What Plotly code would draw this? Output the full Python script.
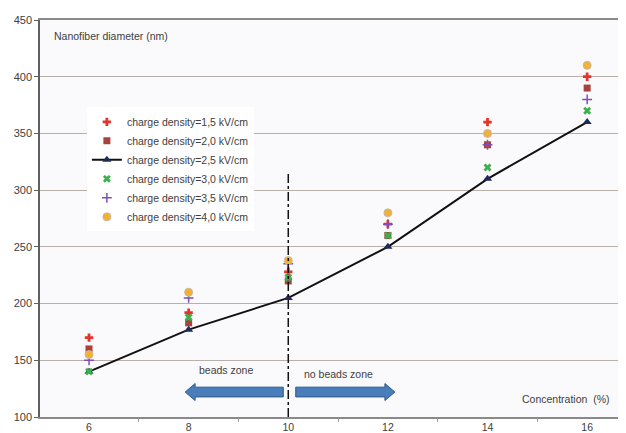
import plotly.graph_objects as go

concentration = [6, 8, 10, 12, 14, 16]
cd_15 = [170, 192, 228, 270, 360, 400]
cd_20 = [160, 183, 220, 260, 340, 390]
cd_25 = [140, 177, 205, 250, 310, 360]
cd_30 = [140, 188, 223, 260, 320, 370]
cd_35 = [150, 205, 235, 270, 340, 380]
cd_40 = [155, 210, 238, 280, 350, 410]

x_ticks = [6, 8, 10, 12, 14, 16]
y_ticks = [100, 150, 200, 250, 300, 350, 400, 450]

FONT = "Liberation Sans, Arial, sans-serif"
TXT = "#404040"

fig = go.Figure()

def mk(name, y, symbol, color, size=7, line=None):
    fig.add_trace(go.Scatter(
        x=concentration, y=y, name=name, mode="markers",
        marker=dict(symbol=symbol, color=color, size=size,
                    line=line or dict(width=0))))

mk("charge density=1,5 kV/cm", cd_15, "cross", "#e8332a", 7)
mk("charge density=2,0 kV/cm", cd_20, "square", "#a8423c", 7)
fig.add_trace(go.Scatter(
    x=concentration, y=cd_25, name="charge density=2,5 kV/cm",
    mode="lines+markers", line=dict(color="#111111", width=2),
    marker=dict(symbol="triangle-up", color="#1f2a5c", size=8)))
mk("charge density=3,0 kV/cm", cd_30, "x", "#3cb04c", 7)
mk("charge density=3,5 kV/cm", cd_35, "cross-thin-open", "#7d4fb8", 7,
   dict(width=1.5, color="#7d4fb8"))
mk("charge density=4,0 kV/cm", cd_40, "circle", "#f2b133", 8,
   dict(width=1, color="#c8b8a8"))

# vertical dash-dot separator at 10 %
boundary = 10
fig.add_shape(type="line", x0=boundary, x1=boundary, y0=100, y1=315,
              xref="x", yref="y", line=dict(color="#111111", width=1.5, dash="dashdot"))

# block arrows
arrow_y = 122
body_h = 4.3
head_h = 7.5
head_len = 0.2

def block_arrow(x_from, x_to):
    d = 1 if x_to > x_from else -1
    xb = x_to - d * head_len
    path = (f"M {x_from},{arrow_y - body_h} L {xb},{arrow_y - body_h} "
            f"L {xb},{arrow_y - head_h} L {x_to},{arrow_y} L {xb},{arrow_y + head_h} "
            f"L {xb},{arrow_y + body_h} L {x_from},{arrow_y + body_h} Z")
    fig.add_shape(type="path", path=path, xref="x", yref="y",
                  fillcolor="#4a7ebb", line=dict(color="#2c5a8c", width=1))

block_arrow(9.9, 7.93)
block_arrow(10.15, 12.14)

fig.add_annotation(x=8.75, y=141, xref="x", yref="y", text="beads zone",
                   showarrow=False, font=dict(family=FONT, size=10.5, color=TXT))
fig.add_annotation(x=11.0, y=138, xref="x", yref="y", text="no beads zone",
                   showarrow=False, font=dict(family=FONT, size=10.5, color=TXT))
fig.add_annotation(x=0.02, y=0.959, xref="paper", yref="paper",
                   text="Nanofiber diameter (nm)", showarrow=False,
                   xanchor="left", yanchor="middle",
                   font=dict(family=FONT, size=10.5, color=TXT))
fig.add_annotation(x=0.976, y=0.046, xref="paper", yref="paper",
                   text="Concentration&nbsp;&nbsp;(%)", showarrow=False,
                   xanchor="right", yanchor="middle",
                   font=dict(family=FONT, size=10.5, color=TXT))

fig.update_layout(
    width=618, height=425,
    margin=dict(l=32, r=0, t=12, b=12),
    paper_bgcolor="white", plot_bgcolor="#fafafc",
    font=dict(family=FONT, size=10, color=TXT),
    showlegend=True,
    legend=dict(x=0.08, y=0.78, xanchor="left", yanchor="top",
                bgcolor="white", font=dict(family=FONT, size=10.5, color=TXT),
                itemwidth=30, tracegroupgap=0),
    xaxis=dict(range=[5.016, 16.78], tickvals=x_ticks, ticks="",
               showgrid=False, zeroline=False,
               showline=True, linecolor="#8a8a8a", linewidth=1.5, mirror=True,
               tickfont=dict(family=FONT, size=10.5, color=TXT),
               minor=dict(tickvals=[7, 9, 11, 13, 15], ticks="outside",
                          ticklen=3, tickcolor="#a0a0a0", showgrid=False)),
    yaxis=dict(range=[100, 450], tickvals=y_ticks, ticks="outside", ticklen=4,
               tickcolor="#606060",
               showgrid=True, gridcolor="#b8b0a8", gridwidth=1.2, zeroline=False,
               showline=True, linecolor="#606060", linewidth=1.5,
               tickfont=dict(family=FONT, size=11, color=TXT)),
)

fig.write_html("out.html")
